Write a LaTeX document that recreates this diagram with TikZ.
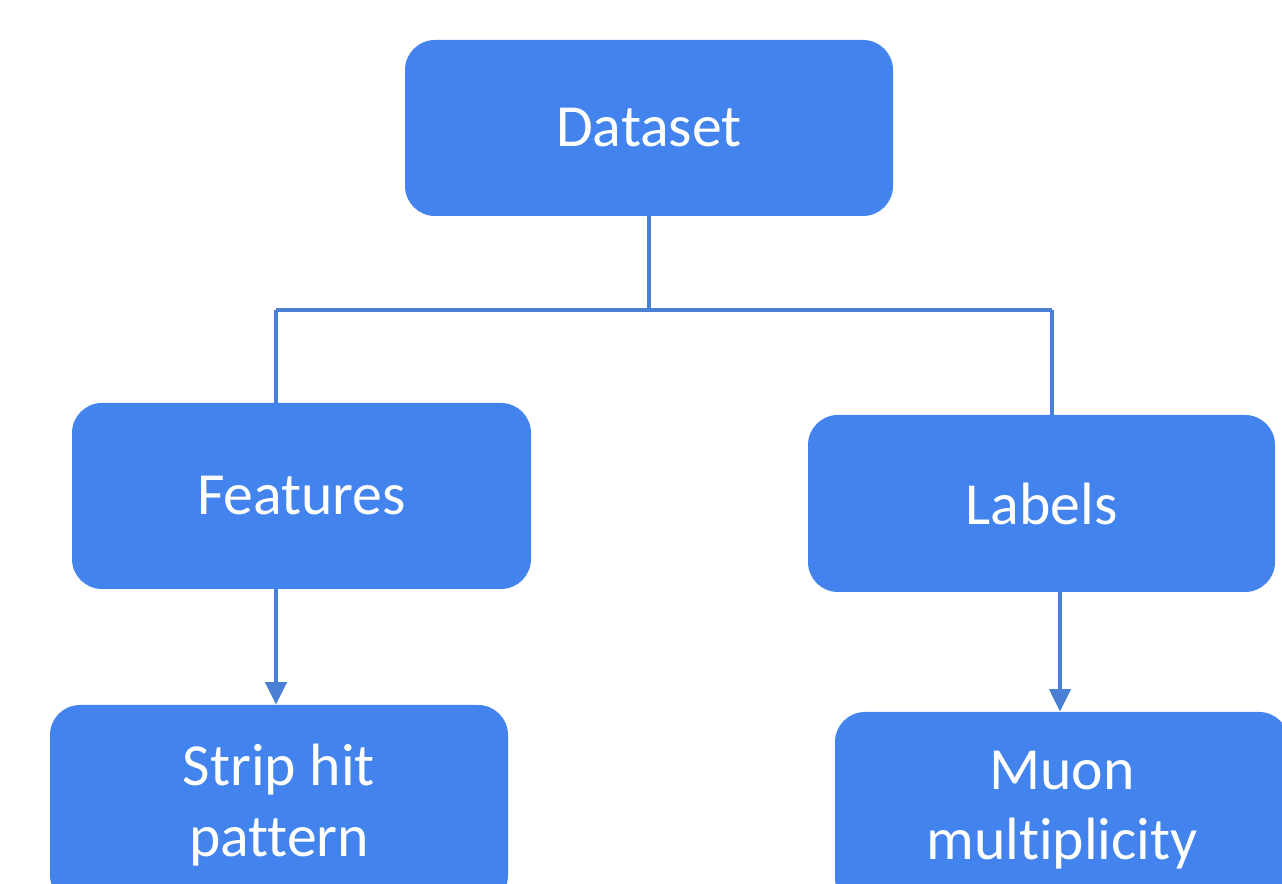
\documentclass[tikz,border=0pt]{standalone}
\usepackage{fontspec}
\setmainfont[Ligatures=CommonOff]{Carlito}
\usepackage{tikz}
\usetikzlibrary{positioning, arrows.meta}
\definecolor{boxblue}{HTML}{4283EE}
\definecolor{lineblue}{HTML}{4A7FD6}

\begin{document}
\begin{tikzpicture}[every node/.style={fill=boxblue, text=white, rectangle, rounded corners=0.6cm, align=center, font=\fontsize{34}{40}\selectfont}]
\clip (0,0) rectangle (25.64,17.68);
\node[minimum width=9.76cm, minimum height=3.52cm] (dataset) at (12.98,15.12) {Dataset};
\node[minimum width=9.18cm, minimum height=3.72cm] (features) at (6.03,7.76) {Features};
\node[minimum width=9.34cm, minimum height=3.54cm] (labels) at (20.83,7.61) {Labels};
\node[minimum width=9.16cm, minimum height=4.0cm] (strip) at (5.58,1.58) {Strip hit\\pattern};
\node[minimum width=9.08cm, minimum height=3.92cm] (muon) at (21.24,1.48) {Muon\\multiplicity};
\coordinate (split) at (12.98,11.48);
\coordinate (lft) at (5.52,11.48);
\coordinate (rgt) at (21.04,11.48);
\coordinate (rgt2) at (21.2,11.48);
\draw [draw=lineblue, line width=2.2pt] (dataset.south) -- (split);
\draw [draw=lineblue, line width=2.2pt] (lft) -- (rgt);
\draw [draw=lineblue, line width=2.2pt] (lft) -- (lft |- features.north);
\draw [draw=lineblue, line width=2.2pt] (rgt) -- (rgt |- labels.north);
\draw [draw=lineblue, fill=lineblue, line width=2.2pt, -{Triangle[width=0.42cm, length=0.45cm]}] (lft |- features.south) -- (lft |- strip.north);
\draw [draw=lineblue, fill=lineblue, line width=2.2pt, -{Triangle[width=0.42cm, length=0.45cm]}] (rgt2 |- labels.south) -- (rgt2 |- muon.north);
\end{tikzpicture}
\end{document}
